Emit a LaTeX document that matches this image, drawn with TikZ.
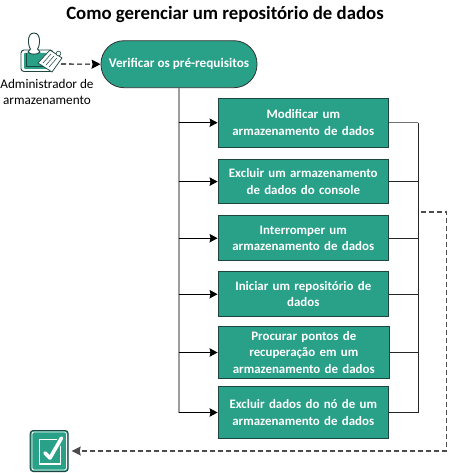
\documentclass[tikz,border=0pt]{standalone}
\usepackage{fontspec}
\setmainfont{Carlito}
\usepackage{tikz}
\usetikzlibrary{arrows.meta, positioning}
\colorlet{taskgreen}{rgb,255:red,41;green,160;blue,136}
\colorlet{darkedge}{rgb,255:red,30;green,70;blue,65}
\tikzset{
  taskbox/.style={draw=darkedge, fill=taskgreen, line width=1pt, minimum width=170.5pt, text width=155pt, align=center, text=white, font=\fontsize{12.9}{16.5}\selectfont\bfseries},
  startbox/.style={draw=black!80, fill=taskgreen, line width=0.8pt, rounded corners=23pt, minimum width=156pt, minimum height=47pt, align=center, text=white, font=\fontsize{13.2}{15}\selectfont\bfseries},
  flowline/.style={draw=black!38, line width=1.8pt},
  branch/.style={draw=black, line width=0.9pt, -{Stealth[length=8pt,width=8.5pt,inset=1pt]}},
  joinline/.style={draw=black!85, line width=0.9pt},
  backline/.style={draw=black!70, line width=1.1pt, dash pattern=on 5pt off 3pt},
}
\begin{document}
\begin{tikzpicture}[x=1pt, y=-1pt, >=Stealth]
    \useasboundingbox (0, 0) rectangle (449, 473);
    \node[font=\fontsize{18.8}{22}\selectfont\bfseries] (title) at (225, 14) {Como gerenciar um repositório de dados};

    % person with clipboard
    \draw[draw=darkedge, line width=0.9pt, rounded corners=3pt, fill=white] (21, 71.5) -- (21, 50) -- (53, 50) -- (53, 71.5) -- cycle;
    \draw[draw=none, fill=taskgreen, rounded corners=1pt] (24, 69) -- (24, 53) -- (50, 53) -- (50, 69) -- cycle;
    \draw[draw=darkedge, line width=0.6pt] (26, 53) -- (26, 66.5) -- (44, 66.5);
    \draw[draw=darkedge, fill=white, line width=0.9pt] (34, 33) .. controls (26.5, 33) and (28, 46) .. (30.5, 49) -- (28, 52) .. controls (31, 55) and (37, 55) .. (40, 52) -- (37.5, 49) .. controls (40, 46) and (41.5, 33) .. (34, 33) -- cycle;
    \draw[draw=darkedge, fill=white, line width=0.7pt] (38, 63) -- (50, 50) -- (62, 58) -- (52, 72) -- cycle;
    \draw[draw=darkedge, fill=white, line width=0.6pt] (58.5, 53.5) circle (2.3);
    \draw[draw=darkedge, line width=0.5pt] (43, 63) -- (51, 54) (46, 65) -- (54, 56) (49, 67) -- (57, 58);

    \node[anchor=center, align=center, font=\fontsize{13.2}{16}\selectfont] (admin) at (47, 92) {Administrador de\\armazenamento};
    \coordinate (adminout) at (61, 64);

    \node[startbox] (verify) at (179, 64.2) {Verificar os pré-requisitos};

    \node[taskbox, minimum height=48.7pt] (modify) at (303.3, 122.7) {Modificar um\\armazenamento de dados};
    \node[taskbox, minimum height=44.7pt] (delete) at (303.3, 181.6) {Excluir um armazenamento\\de dados do console};
    \node[taskbox, minimum height=45pt] (stop) at (303.3, 238.2) {Interromper um\\armazenamento de dados};
    \node[taskbox, minimum height=45pt] (begin) at (303.3, 294.2) {Iniciar um repositório de\\dados};
    \node[taskbox, minimum width=171.5pt, minimum height=51.6pt] (search) at (303.8, 352.5) {Procurar pontos de\\recuperação em um\\armazenamento de dados};
    \node[taskbox, minimum height=51.6pt] (remove) at (303.3, 412.5) {Excluir dados do nó de um\\armazenamento de dados};

    % finished check mark
    \node[draw=darkedge, fill=taskgreen, line width=1pt, rounded corners=3pt, minimum width=38pt, minimum height=41pt] (done) at (49.2, 451) {};
    \draw[draw=white, line width=0.8pt, rounded corners=2pt] (32, 432) rectangle (66.4, 470);
    \draw[draw=white, line width=1.4pt] (39.5, 439.5) rectangle (60.5, 464);
    \draw[draw=taskgreen, line width=6pt, line cap=round, line join=round] (45, 453) -- (50, 458) -- (61.5, 438);
    \draw[draw=white, line width=3.6pt, line cap=round, line join=round] (45, 453) -- (50, 458) -- (61.5, 438);

    \draw[draw=black, line width=1.1pt, dash pattern=on 5pt off 3pt, -{Stealth[length=9pt,width=9pt,inset=1pt]}] (adminout) -- (verify.west);

    \draw[flowline] (verify.south) -- (verify.south |- remove.west);
    \foreach \task in {modify, delete, stop, begin, search, remove} {
      \draw[branch] (verify.south |- \task.west) -- (\task.west);
    }

    \coordinate (rightbar) at (418.3, 122.7);
    \draw[joinline] (rightbar) -- (rightbar |- remove.east);
    \draw[draw=black!55, line width=1.5pt] (modify.east) -- (rightbar);
    \foreach \task in {delete, stop, begin, search, remove} {
      \draw[joinline] (\task.east) -- (rightbar |- \task.east);
    }

    \coordinate (backstart) at (421, 212);
    \coordinate (backturn) at (446.7, 212);
    \draw[backline, -{Stealth[length=9pt,width=9pt,inset=1pt]}] (backstart) -- (backturn) -- (backturn |- done.east) -- ([xshift=3pt]done.east);
\end{tikzpicture}
\end{document}
